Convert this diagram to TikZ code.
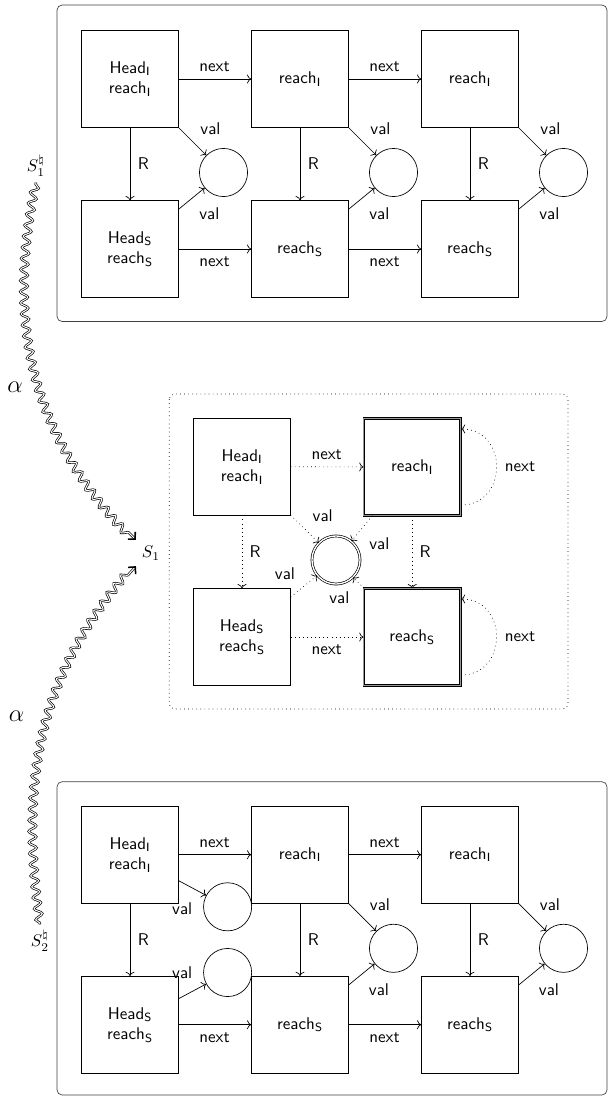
\documentclass[tikz,border=0pt]{standalone}
\usetikzlibrary{decorations.pathmorphing,arrows.meta}
\begin{document}
\begin{tikzpicture}[x=0.5882pt,y=0.5882pt,font=\sffamily,
  box/.style={draw, minimum size=56.9pt, inner sep=0pt, align=center},
  valc/.style={draw, circle, minimum size=28.3pt, inner sep=0pt},
  lbl/.style={inner sep=0pt},
  arr/.style={->},
  dotarr/.style={->, dotted},
  dbl/.style={double, double distance=0.8pt},
  dblbox/.style={double=black!40, double distance=0.7pt},
  panel/.style={draw=black!75, rounded corners=3pt},
  wave/.style={-{Straight Barb[length=3pt,width=6pt,line width=0.9pt]}, double, decorate,
    decoration={snake, amplitude=2.2pt, segment length=6.5pt, pre length=1pt, post length=5pt}},
]
\useasboundingbox (0,0) rectangle (608,-1097);

% ---------- top panel ----------
\draw[panel] (57,-5) rectangle (607,-321.5);
\foreach \i/\x in {1/130,2/300,3/470}{
  \node[valc] (c\i) at (\x+93.5,-172.5) {};
}
\node[box] (a1) at (130,-79) {Head$_\mathsf{I}$\\reach$_\mathsf{I}$};
\node[box] (a2) at (300,-79) {reach$_\mathsf{I}$};
\node[box] (a3) at (470,-79) {reach$_\mathsf{I}$};
\node[box] (b1) at (130,-249) {Head$_\mathsf{S}$\\reach$_\mathsf{S}$};
\node[box] (b2) at (300,-249) {reach$_\mathsf{S}$};
\node[box] (b3) at (470,-249) {reach$_\mathsf{S}$};
\foreach \i/\j/\x in {1/2/214.5,2/3/384.5}{
  \draw[arr] (a\i) -- (a\j) node[lbl] (tn\i) at (\x,-66.7) {next};
  \draw[arr] (b\i) -- (b\j) node[lbl] (bn\i) at (\x,-261.7) {next};
}
\foreach \i/\x in {1/130,2/300,3/470}{
  \draw[arr] (a\i) -- (b\i) node[lbl] (tr\i) at (\x+13.4,-164) {R};
  \draw[arr] (a\i) -- (c\i) node[lbl] (tv\i) at (\x+80.5,-128.3) {val};
  \draw[arr] (b\i) -- (c\i) node[lbl] (tw\i) at (\x+79.3,-213.3) {val};
}

% ---------- middle panel ----------
\draw[panel, draw=black, dotted] (169.3,-394) rectangle (568,-709);
\node[box] (m1) at (242,-466.7) {Head$_\mathsf{I}$\\reach$_\mathsf{I}$};
\node[box, dblbox] (m2) at (412.2,-467) {reach$_\mathsf{I}$};
\node[box] (m3) at (242,-637) {Head$_\mathsf{S}$\\reach$_\mathsf{S}$};
\node[box, dblbox] (m4) at (412.2,-637) {reach$_\mathsf{S}$};
\node[valc, dbl] (mc) at (336,-560) {};
\draw[dotarr] (m1) -- (m2) node[lbl] (mn1) at (326.7,-455) {next};
\draw[dotarr] (m3) -- (m4) node[lbl] (mn2) at (326.7,-649.3) {next};
\draw[dotarr] (m1) -- (m3) node[lbl] (mr1) at (255,-551.7) {R};
\draw[dotarr] (m2) -- (m4) node[lbl] (mr2) at (425,-551.7) {R};
\draw[dotarr] (m1) -- (mc) node[lbl] (mv1) at (322.7,-516) {val};
\draw[dotarr] (m2) -- (mc) node[lbl] (mv2) at (379.3,-543.3) {val};
\draw[dotarr] (m3) -- (mc) node[lbl] (mv3) at (285,-573.3) {val};
\draw[dotarr] (m4) -- (mc) node[lbl] (mv4) at (339.3,-597.3) {val};
\draw[dotarr] (m2.-38) to[out=0,in=0,looseness=1.6] (m2.38);
\node[lbl] (ml1) at (520,-466.7) {next};
\draw[dotarr] (m4.-38) to[out=0,in=0,looseness=1.6] (m4.38);
\node[lbl] (ml2) at (520,-636.7) {next};

% ---------- bottom panel ----------
\draw[panel] (57,-781.7) rectangle (607,-1095);
\node[box] (d1) at (130,-854.7) {Head$_\mathsf{I}$\\reach$_\mathsf{I}$};
\node[box] (d2) at (300,-854.7) {reach$_\mathsf{I}$};
\node[box] (d3) at (470,-854.7) {reach$_\mathsf{I}$};
\node[box] (e1) at (130,-1024.7) {Head$_\mathsf{S}$\\reach$_\mathsf{S}$};
\node[box] (e2) at (300,-1024.7) {reach$_\mathsf{S}$};
\node[box] (e3) at (470,-1024.7) {reach$_\mathsf{S}$};
\node[valc] (f1) at (227.6,-906.8) {};
\node[valc] (f2) at (227.6,-972.5) {};
\node[valc] (g2) at (393.5,-948.3) {};
\node[valc] (g3) at (563.5,-948.3) {};
\foreach \i/\j/\x in {1/2/214.5,2/3/384.5}{
  \draw[arr] (d\i) -- (d\j) node[lbl] (dn\i) at (\x,-842.7) {next};
  \draw[arr] (e\i) -- (e\j) node[lbl] (en\i) at (\x,-1037.3) {next};
}
\foreach \i/\x in {1/130,2/300,3/470}{
  \draw[arr] (d\i) -- (e\i) node[lbl] (dr\i) at (\x+13.4,-940) {R};
}
\draw[arr] (d1) -- (f1) node[lbl] (dv1) at (182.2,-908.3) {val};
\draw[arr] (e1) -- (f2) node[lbl] (ev1) at (182.2,-972.7) {val};
\foreach \i/\x in {2/300,3/470}{
  \draw[arr] (d\i) -- (g\i) node[lbl] (dv\i) at (\x+80,-905) {val};
  \draw[arr] (e\i) -- (g\i) node[lbl] (ev\i) at (\x+79,-990) {val};
}

% ---------- abstraction arrows ----------
\node (s1n) at (36,-166) {$S_1^\natural$};
\node (s1) at (151,-553) {$S_1$};
\node (s2n) at (40,-941) {$S_2^\natural$};
\node (al1) at (15,-387) {\Large$\alpha$};
\node (al2) at (16.7,-716.7) {\Large$\alpha$};
\draw[wave] (s1n.south) to[out=-102,in=135] (s1.north west);
\draw[wave] (s2n.north) to[out=98,in=-132] (s1.south west);
\end{tikzpicture}
\end{document}
